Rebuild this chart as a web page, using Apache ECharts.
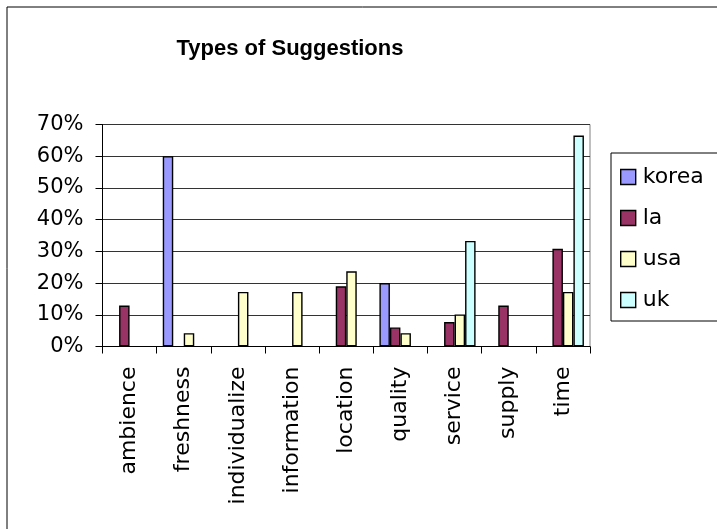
<!DOCTYPE html>
<html>
<head>
<meta charset="utf-8">
<script src="https://cdn.jsdelivr.net/npm/echarts@6/dist/echarts.min.js"></script>
<style>
  html, body { margin: 0; padding: 0; background: #fff; }
  #chart { width: 717px; height: 529px; }
</style>
</head>
<body>
<div id="chart"></div>
<script>
const categories = ["ambience", "freshness", "individualize", "information", "location", "quality", "service", "supply", "time"];
const korea = [0, 0.60, 0, 0, 0, 0.20, 0, 0, 0];
const la = [0.129, 0, 0, 0, 0.19, 0.06, 0.077, 0.129, 0.308];
const usa = [0, 0.042, 0.172, 0.172, 0.237, 0.042, 0.101, 0, 0.172];
const uk = [0, 0, 0, 0, 0, 0, 0.333, 0, 0.665];

const titleFont = "'Liberation Sans', Arial, sans-serif";
const font = "'DejaVu Sans', sans-serif";
const colors = { korea: "#9999FF", la: "#993366", usa: "#FFFFCC", uk: "#CCFFFF" };

const chart = echarts.init(document.getElementById("chart"));

// zero values are not drawn in the original
const clean = (arr) => arr.map((v) => (v === 0 ? "-" : v));

const mkSeries = (name, arr) => ({
  name,
  type: "bar",
  data: clean(arr),
  barWidth: 10.5,
  barGap: "0%",
  itemStyle: { color: colors[name], borderColor: "#000", borderWidth: 1.4 },
  animation: false,
});

chart.setOption({
  backgroundColor: "#fff",
  textStyle: { fontFamily: font },
  graphic: [
    {
      type: "rect",
      shape: { x: 7, y: 7, width: 730, height: 540 },
      style: { fill: "none", stroke: "#000", lineWidth: 1 },
      silent: true,
      z: -10,
    },
  ],
  title: {
    text: "Types of Suggestions",
    left: 285,
    textAlign: "center",
    top: 33,
    textStyle: { fontFamily: titleFont, fontSize: 22, fontWeight: "bold", color: "#000" },
  },
  legend: {
    orient: "vertical",
    left: 611,
    top: 153,
    padding: [13, 60, 10, 9],
    borderColor: "#000",
    borderWidth: 1,
    itemWidth: 15,
    itemHeight: 15,
    itemGap: 19,
    icon: "rect",
    itemStyle: { borderColor: "#000", borderWidth: 1.4 },
    textStyle: { fontFamily: font, fontSize: 22, color: "#000", padding: [0, 0, 0, 2] },
    data: ["korea", "la", "usa", "uk"],
  },
  grid: {
    left: 102.5,
    right: 127,
    top: 124.5,
    bottom: 182.5,
    show: true,
    borderColor: "#808080",
    borderWidth: 1,
  },
  xAxis: {
    type: "category",
    data: categories,
    axisLine: { lineStyle: { color: "#000", width: 1 } },
    axisTick: { show: true, length: 7, lineStyle: { color: "#000" } },
    axisLabel: {
      rotate: 90,
      margin: 20,
      fontFamily: font,
      fontSize: 22,
      color: "#000",
      interval: 0,
    },
  },
  yAxis: {
    type: "value",
    min: 0,
    max: 0.7,
    interval: 0.1,
    axisLine: { show: true, lineStyle: { color: "#000", width: 1 } },
    axisTick: { show: true, length: 7, lineStyle: { color: "#000" } },
    splitLine: { show: true, lineStyle: { color: "#333", width: 1 } },
    axisLabel: {
      margin: 19,
      fontFamily: font,
      fontSize: 21,
      color: "#000",
      formatter: (v) => Math.round(v * 100) + "%",
    },
  },
  series: [mkSeries("korea", korea), mkSeries("la", la), mkSeries("usa", usa), mkSeries("uk", uk)],
});
</script>
</body>
</html>
